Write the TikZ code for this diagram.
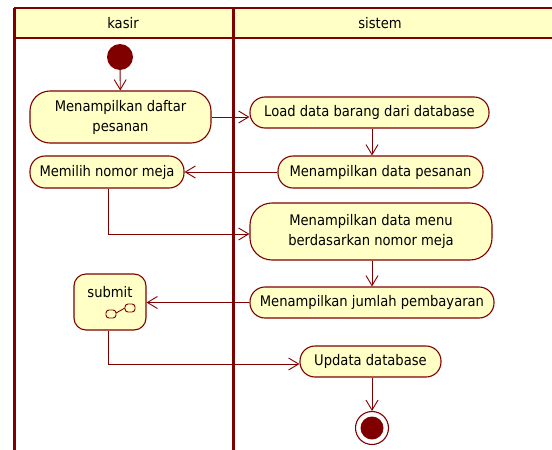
\documentclass[tikz,border=0pt]{standalone}
\usepackage{fontspec}
\setmainfont{DejaVu Sans Condensed}
\usetikzlibrary{arrows.meta}
\definecolor{umlline}{RGB}{128,0,0}
\definecolor{umlfill}{RGB}{255,255,198}
\tikzset{
  act/.style={draw=umlline, fill=umlfill, line width=1.1pt, rectangle,
    rounded corners=#1, inner sep=0pt, align=center, font=\fontsize{14.6}{20}\selectfont},
  act/.default=15pt,
  flow/.style={draw=umlline, line width=0.9pt, -{Straight Barb[length=10pt,width=12pt,line width=0.9pt]}},
  lane/.style={draw=umlline, line width=3pt},
  lbl/.style={font=\fontsize{14.6}{17}\selectfont, inner sep=0pt},
}
\begin{document}
\begin{tikzpicture}[x=1pt,y=-1pt]
\useasboundingbox (0,0) rectangle (552,450);
% swimlane header
\fill[umlfill] (14,8) rectangle (552,38);
\draw[lane, line width=2.5pt] (14,8) -- (552,8);
\draw[lane, line width=2.5pt] (14,38) -- (552,38);
\draw[lane] (14,8) -- (14,450);
\draw[lane] (233,8) -- (233,450);
\node[lbl] (hkasir) at (123,23) {kasir};
\node[lbl] (hsistem) at (380,23) {sistem};

% initial node
\node[circle, fill=umlline, minimum size=26pt, inner sep=0pt] (start) at (120,57) {};

% actions
\node[act=20pt, minimum width=181pt, minimum height=52pt] (daftar) at (120.5,117) {Menampilkan daftar\\pesanan};
\node[act, minimum width=239pt, minimum height=31pt] (load) at (369.5,112.5) {Load data barang dari database};
\node[act, minimum width=205pt, minimum height=32pt] (pesanan) at (380.5,172) {Menampilkan data pesanan};
\node[act, minimum width=154pt, minimum height=32pt] (meja) at (107,172) {Memilih nomor meja};
\node[act=22pt, minimum width=242pt, minimum height=57pt] (menu) at (371,231.5) {Menampilkan data menu\\berdasarkan nomor meja};
\node[act, minimum width=244pt, minimum height=31pt] (bayar) at (372,302.5) {Menampilkan jumlah pembayaran};
\node[act=12pt, minimum width=72pt, minimum height=56pt] (submit) at (110,302) {};
\node[lbl] (submitlbl) at (110,292) {submit};
\node[act, minimum width=141pt, minimum height=31pt] (update) at (370.5,361.5) {Updata database};

% call-behaviour mark in the submit action
\draw[umlline, line width=0.9pt, rounded corners=3pt] (106,310) rectangle (116,318);
\draw[umlline, line width=0.9pt, rounded corners=3pt] (125,304) rectangle (135,312);
\draw[umlline, line width=0.9pt] (116,313) -- (125,308);

% final node
\node[circle, draw=umlline, line width=1.1pt, fill=white, minimum size=33pt, inner sep=0pt] (final) at (372,428) {};
\node[circle, fill=umlline, minimum size=23pt, inner sep=0pt] at (final.center) {};

% control flows
\draw[flow] (start) -- (daftar);
\draw[flow] (daftar.east |- 0,117) -- (load.west |- 0,117);
\draw[flow] (load.south -| 372,0) -- (pesanan.north -| 372,0);
\draw[flow] (pesanan.west) -- (meja.east);
\draw[flow] (meja.south -| 108,0) |- (menu.west |- 0,234);
\draw[flow] (menu.south -| 372,0) -- (bayar.north -| 372,0);
\draw[flow] (bayar.west) -- (submit.east |- bayar.west);
\draw[flow] (submit.south -| 108,0) |- (update.west |- 0,364);
\draw[flow] (update.south -| 372,0) -- (final.north);
\end{tikzpicture}
\end{document}
